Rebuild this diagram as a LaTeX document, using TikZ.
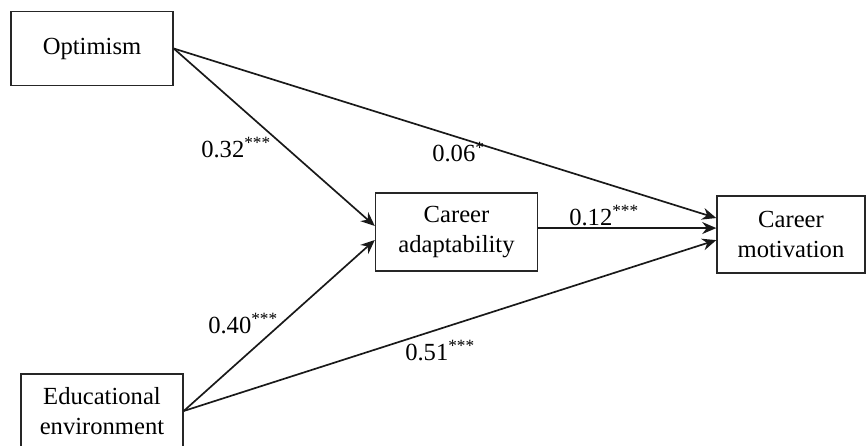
\documentclass[tikz,border=0pt]{standalone}
\usepackage{fontspec}
\setmainfont{Liberation Serif}
\usepackage{xcolor}
\usepackage{tikz}
\usetikzlibrary{arrows.meta, positioning, calc}

\begin{document}
\begin{tikzpicture}[
    x=0.025cm, y=-0.025cm,
    font=\fontsize{17.5}{21.3}\selectfont,
    kotak/.style={draw=black!85, line width=1pt, minimum height=1.85cm,
                  minimum width=4.05cm, align=center, inner sep=0pt},
    panah/.style={-{Stealth[length=10pt, width=8.5pt]}, line width=1.2pt, black!90},
    angka/.style={anchor=base west, inner sep=0pt}
  ]
    \useasboundingbox (0,0) rectangle (867,446);

    \node[kotak] (optim) at (92,48.5) {Optimism};
    \node[kotak, minimum height=1.95cm] (adapt) at (456.5,232) {Career\\adaptability};
    \node[kotak, minimum width=3.7cm, minimum height=1.925cm] (motiv) at (791,234.5) {Career\\motivation};
    \node[kotak] (edu) at (102,411) {Educational\\environment};

    \draw[panah] (optim.east) -- ([yshift=4.3pt]adapt.west);
    \draw[panah] (edu.east) -- ([yshift=-5.7pt]adapt.west);
    \draw[panah] (optim.east) -- ([yshift=11.7pt]motiv.west);
    \draw[panah] ([yshift=2.8pt]adapt.east) -- ([yshift=2.8pt]adapt.east -| motiv.west);
    \draw[panah] (edu.east) -- ([yshift=-4pt]motiv.west);

    \node[angka] (l1) at (201,157) {0.32\textsuperscript{***}};
    \node[angka] (l2) at (432,162) {0.06\textsuperscript{*}};
    \node[angka] (l3) at (569,225) {0.12\textsuperscript{***}};
    \node[angka] (l4) at (208,333) {0.40\textsuperscript{***}};
    \node[angka] (l5) at (405,360) {0.51\textsuperscript{***}};
  \end{tikzpicture}
\end{document}
